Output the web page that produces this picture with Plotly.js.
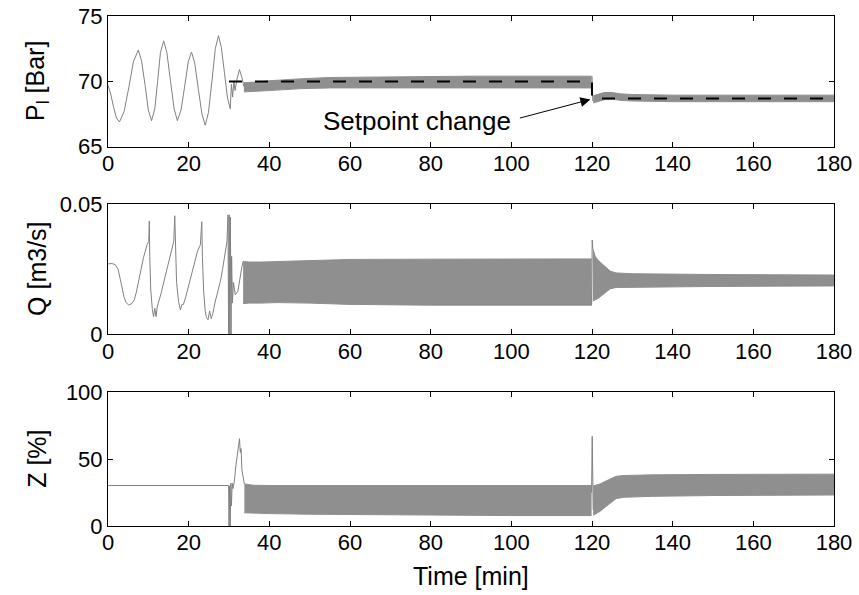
<!DOCTYPE html>
<html>
<head>
<meta charset="utf-8">
<script src="https://cdn.plot.ly/plotly-3.0.1.min.js"></script>
<style>html,body{margin:0;padding:0;background:#fff;}#chart{width:859px;height:595px;}</style>
</head>
<body>
<div id="chart"></div>
<script>
// ---------- Panel 1: pressure P_l [Bar] ----------
const p1LineT = [0, 0.7, 1.4, 2.1, 2.85, 4.0, 5.2, 6.3, 7.5, 8.3, 9.2, 10.0, 10.8, 11.6, 12.3, 13.0, 13.8, 14.6, 15.5, 16.4, 17.2, 18.1, 19.0, 19.9, 20.7, 21.5, 22.4, 23.3, 24.1, 24.9, 25.8, 26.6, 27.4, 28.1, 28.9, 29.6, 30.3, 30.6, 30.9, 31.2, 31.5, 32, 32.6, 33.2, 33.7];
const p1LineV = [69.7, 69.0, 68.0, 67.2, 66.9, 67.7, 69.6, 71.5, 72.4, 71.6, 69.7, 67.8, 67.0, 67.9, 70.0, 72.2, 73.1, 72.2, 70.0, 67.9, 67.0, 67.8, 69.6, 71.5, 72.25, 71.4, 69.4, 67.5, 66.65, 67.6, 70.1, 72.5, 73.5, 72.6, 70.6, 68.8, 67.9, 69.8, 68.8, 70.0, 69.3, 70.2, 70.9, 70.3, 69.6];
const p1BandAT = [33.7, 35, 37, 40, 44, 48, 55, 70, 90, 119.9];
const p1BandAUp = [69.9, 69.9, 69.95, 70.05, 70.15, 70.2, 70.3, 70.35, 70.4, 70.4];
const p1BandALo = [69.2, 69.2, 69.25, 69.3, 69.4, 69.45, 69.5, 69.5, 69.5, 69.5];
const p1StepT = [120, 120.2];
const p1StepV = [70.4, 68.5];
const p1BandBT = [120.3, 121.5, 123, 125, 127, 130, 140, 160, 180];
const p1BandBUp = [68.9, 69.0, 69.15, 69.15, 69.05, 69.0, 68.95, 68.95, 68.95];
const p1BandBLo = [68.35, 68.45, 68.6, 68.65, 68.55, 68.5, 68.45, 68.45, 68.45];
const setT = [30, 120, 120, 180];
const setV = [70, 70, 68.7, 68.7];

// ---------- Panel 2: flow Q [m3/s] ----------
const p2LineT = [0, 1, 1.8, 2.5, 3, 3.5, 4, 4.5, 5.1, 5.8, 6.5, 7, 7.6, 8.2, 8.8, 9.3, 9.7, 10.1, 10.25, 10.35, 10.6, 11.0, 11.3, 11.6, 11.9, 12.2, 12.7, 13.2, 13.9, 14.6, 15.2, 15.8, 16.3, 16.55, 16.7, 17.0, 17.5, 17.95, 18.3, 18.7, 19.3, 20.0, 20.8, 21.5, 22.2, 22.9, 23.25, 23.4, 23.7, 24.1, 24.4, 24.8, 25.2, 25.6, 26.0, 26.5, 27.2, 27.85, 28.4, 28.9, 29.5, 29.75, 29.9, 30.05, 30.2, 30.35, 30.5, 30.65, 30.85, 31.1, 31.55, 32.2, 32.8, 33.2, 33.5];
const p2LineV = [0.0271, 0.0272, 0.0268, 0.025, 0.0215, 0.0175, 0.0142, 0.0122, 0.0113, 0.0117, 0.0132, 0.016, 0.020, 0.025, 0.0295, 0.0325, 0.0345, 0.0357, 0.0436, 0.030, 0.017, 0.0095, 0.0068, 0.010, 0.0068, 0.0105, 0.013, 0.016, 0.0205, 0.025, 0.029, 0.033, 0.0357, 0.0456, 0.032, 0.020, 0.0125, 0.0094, 0.0114, 0.0115, 0.0145, 0.019, 0.024, 0.028, 0.032, 0.0344, 0.0433, 0.030, 0.017, 0.009, 0.0065, 0.0056, 0.009, 0.006, 0.008, 0.012, 0.016, 0.0203, 0.025, 0.030, 0.0357, 0.0459, 0.0, 0.046, 0.0, 0.045, 0.0, 0.030, 0.012, 0.020, 0.0152, 0.0165, 0.023, 0.026, 0.028];
const p2BandAT = [33.5, 35, 38, 42, 50, 60, 80, 100, 119.9];
const p2BandAUp = [0.028, 0.0278, 0.0278, 0.028, 0.0285, 0.0288, 0.0289, 0.029, 0.029];
const p2BandALo = [0.0118, 0.012, 0.012, 0.0122, 0.012, 0.0115, 0.0112, 0.0112, 0.0112];
const p2SpikeT = [119.9, 120.05, 120.2];
const p2SpikeV = [0.0112, 0.0363, 0.033];
const p2BandBT = [120.2, 120.8, 121.5, 122.5, 123.5, 124.5, 126, 130, 150, 180];
const p2BandBUp = [0.033, 0.030, 0.0285, 0.027, 0.0255, 0.0243, 0.0236, 0.0233, 0.023, 0.0228];
const p2BandBLo = [0.0128, 0.0132, 0.0138, 0.0150, 0.0163, 0.0175, 0.018, 0.0181, 0.0184, 0.0186];

// ---------- Panel 3: opening Z [%] ----------
const p3LineT = [0, 29.9, 30.0, 30.15, 30.3, 30.45, 30.6, 30.8, 31.0, 31.3, 31.7, 32.0, 32.3, 32.6, 32.8, 33.0, 33.2, 33.5, 33.8];
const p3LineV = [30.3, 30.3, 0, 30, 0, 32, 15, 32, 28, 33, 45, 52, 58, 65.4, 55, 58, 42, 35, 31.5];
const p3BandAT = [33.8, 36, 40, 50, 60, 80, 100, 119.9];
const p3BandAUp = [31.5, 30.5, 30.3, 30.3, 30.3, 30.3, 30.3, 30.3];
const p3BandALo = [9.9, 9.6, 9.3, 8.8, 8.5, 8, 7.8, 7.8];
const p3SpikeT = [119.9, 120.05, 120.3];
const p3SpikeV = [25, 67.1, 12];
const p3BandBT = [120.3, 121, 122, 123, 124, 125, 126, 128, 135, 150, 180];
const p3BandBUp = [30, 30.5, 31.5, 33, 34.5, 36, 37.2, 37.8, 38.3, 38.6, 38.8];
const p3BandBLo = [8, 9, 11, 13.5, 16, 18.5, 20.5, 21.5, 22.2, 22.8, 23.2];

// ---------- Axes / text ----------
const xTicks = [0, 20, 40, 60, 80, 100, 120, 140, 160, 180];
const y1Ticks = [65, 70, 75];
const y2Ticks = [0, 0.05];
const y2TickText = ['0', '0.05'];
const y3Ticks = [0, 50, 100];
const yTitles = ['P<sub>l</sub> [Bar]', 'Q [m3/s]', 'Z [%]'];
const xTitle = 'Time [min]';
const noteText = 'Setpoint change';

const GRAY = 'rgb(128,128,128)';
const BAND = 'rgb(143,143,143)';
const FONT = 'Liberation Sans, Arial, sans-serif';
const TICK_SIZE = 22, TITLE_SIZE = 25, NOTE_SIZE = 26;

function line(x, y, ax, opts) {
  return Object.assign({x: x, y: y, xaxis: 'x' + ax, yaxis: 'y' + ax, type: 'scatter', mode: 'lines',
    line: {color: GRAY, width: 1}, hoverinfo: 'skip', showlegend: false}, opts || {});
}
function band(t, up, lo, ax) {
  return [
    line(t, up, ax, {line: {color: BAND, width: 1}}),
    line(t, lo, ax, {line: {color: BAND, width: 1}, fill: 'tonexty', fillcolor: BAND})
  ];
}

const traces = [];
traces.push(...band(p1BandAT, p1BandAUp, p1BandALo, ''));
traces.push(...band(p1BandBT, p1BandBUp, p1BandBLo, ''));
traces.push(line(p1LineT, p1LineV, ''));
traces.push(line(p1StepT, p1StepV, ''));
traces.push(line(setT, setV, '', {line: {color: 'black', width: 2, dash: '13px,13px'}}));

traces.push(...band(p2BandAT, p2BandAUp, p2BandALo, '2'));
traces.push(...band(p2BandBT, p2BandBUp, p2BandBLo, '2'));
traces.push(line(p2LineT, p2LineV, '2'));
traces.push(line(p2SpikeT, p2SpikeV, '2'));

traces.push(...band(p3BandAT, p3BandAUp, p3BandALo, '3'));
traces.push(...band(p3BandBT, p3BandBUp, p3BandBLo, '3'));
traces.push(line(p3LineT, p3LineV, '3'));
traces.push(line(p3SpikeT, p3SpikeV, '3'));

const tickFont = {family: FONT, size: TICK_SIZE, color: 'black'};
function xa(anchor) {
  return {range: [0, 180], tickvals: xTicks, ticks: 'inside', ticklen: 5, tickcolor: 'black',
    showline: true, linecolor: 'black', linewidth: 1, mirror: 'ticks', showgrid: false, zeroline: false,
    tickfont: tickFont, anchor: anchor, domain: [0, 1], ticklabelstandoff: -3, fixedrange: true};
}
function ya(range, vals, text, dom, anchor) {
  const o = {range: range, tickvals: vals, ticks: 'inside', ticklen: 5, tickcolor: 'black',
    showline: true, linecolor: 'black', linewidth: 1, mirror: 'ticks', showgrid: false, zeroline: false,
    tickfont: tickFont, domain: dom, anchor: anchor, fixedrange: true};
  if (text) o.ticktext = text;
  return o;
}

const mL = 107.5, mR = 24.5, mT = 15.7, mB = 68.5;
const plotH = 595 - mT - mB;
function dom(top, bottom) { return [(595 - mB - bottom) / plotH, (595 - mB - top) / plotH]; }
const d1 = dom(15.7, 146.7), d2 = dom(204.3, 334.5), d3 = dom(392.7, 526.5);
const titleX = (37 - mL) / (859 - mL - mR);

const layout = {
  width: 859, height: 595,
  margin: {l: mL, r: mR, t: mT, b: mB, pad: 0},
  paper_bgcolor: 'white', plot_bgcolor: 'white',
  font: {family: FONT, size: TICK_SIZE, color: 'black'},
  showlegend: false,
  xaxis: xa('y'), yaxis: ya([65, 75], y1Ticks, null, d1, 'x'),
  xaxis2: xa('y2'), yaxis2: ya([0, 0.05], y2Ticks, y2TickText, d2, 'x2'),
  xaxis3: xa('y3'), yaxis3: ya([0, 100], y3Ticks, null, d3, 'x3'),
  annotations: [
    {xref: 'paper', yref: 'paper', x: titleX, y: (d1[0] + d1[1]) / 2, text: yTitles[0], textangle: -90,
     showarrow: false, xanchor: 'center', yanchor: 'middle', font: {family: FONT, size: TITLE_SIZE}},
    {xref: 'paper', yref: 'paper', x: titleX, y: (d2[0] + d2[1]) / 2, text: yTitles[1], textangle: -90,
     showarrow: false, xanchor: 'center', yanchor: 'middle', font: {family: FONT, size: TITLE_SIZE}},
    {xref: 'paper', yref: 'paper', x: titleX, y: (d3[0] + d3[1]) / 2, text: yTitles[2], textangle: -90,
     showarrow: false, xanchor: 'center', yanchor: 'middle', font: {family: FONT, size: TITLE_SIZE}},
    {xref: 'paper', yref: 'paper', x: 0.5, y: (595 - mB - 577) / plotH, text: xTitle,
     showarrow: false, xanchor: 'center', yanchor: 'middle', font: {family: FONT, size: TITLE_SIZE}},
    {xref: 'x', yref: 'y', x: 100.4, y: 66.95, text: noteText, showarrow: false,
     xanchor: 'right', yanchor: 'middle', font: {family: FONT, size: NOTE_SIZE}},
    {xref: 'x', yref: 'y', x: 119.6, y: 68.62, ax: -72, ay: 19, axref: 'pixel', ayref: 'pixel',
     text: '', showarrow: true, arrowhead: 2, arrowsize: 2, arrowwidth: 1, arrowcolor: 'black', standoff: 0}
  ]
};

Plotly.newPlot('chart', traces, layout, {staticPlot: true, displayModeBar: false});
</script>
</body>
</html>
